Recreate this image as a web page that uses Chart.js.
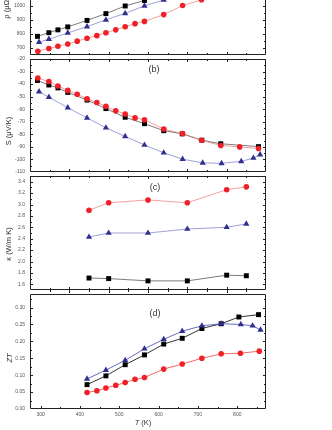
<!DOCTYPE html>
<html>
<head>
<meta charset="utf-8">
<script src="https://cdn.jsdelivr.net/npm/chart.js@4.4.0/dist/chart.umd.min.js"></script>
<style>
html, body { margin: 0; padding: 0; background: #fff; overflow: hidden; }
body { width: 332px; height: 430px; position: relative; font-family: "Liberation Sans", Arial, sans-serif; }
canvas { position: absolute; left: 0; }
.lbl { position: absolute; white-space: nowrap; color: #333; transform: translate(-50%, -50%); line-height: 1; }
.rot { transform: translate(-50%, -50%) rotate(-90deg); }
.ax { font-size: 7.5px; }
.pl { font-size: 9px; }
</style>
</head>
<body>
<canvas id="rhoChart" width="332" height="129" style="top:-66px"></canvas>
<canvas id="seebeckChart" width="332" height="129" style="top:51px"></canvas>
<canvas id="kappaChart" width="332" height="130" style="top:168px"></canvas>
<canvas id="ztChart" width="332" height="144" style="top:286px"></canvas>

<div class="lbl rot ax" style="left:7px; top:2px">ρ (μΩ cm)</div>
<div class="lbl rot ax" style="left:8.5px; top:131px">S (μV/K)</div>
<div class="lbl rot ax" style="left:8.5px; top:244px">κ (W/m K)</div>
<div class="lbl rot ax" style="left:9.5px; top:358px"><i>ZT</i></div>
<div class="lbl ax" style="left:143px; top:423px"><i>T</i> (K)</div>
<div class="lbl pl" style="left:154px; top:69px">(b)</div>
<div class="lbl pl" style="left:155px; top:187px">(c)</div>
<div class="lbl pl" style="left:155px; top:313px">(d)</div>

<script>
// Temperatures for panels a-c (their own 300-900 K axis)
const tBlackAB = [319, 348, 371, 396, 445, 493, 542, 591, 640, 687, 737, 785, 881];
const tRedAB = [320, 348, 371, 396, 420, 445, 470, 493, 518, 542, 567, 591, 640, 688, 736, 785, 833, 881];
const tBlueAB = [323, 348, 396, 445, 493, 542, 591, 640, 688, 739, 787, 837, 868, 885];
const tKappa = [450, 500, 600, 700, 800, 850];

// Temperatures for panel d (273-873 K axis)
const tBlackD = [418, 466, 515, 564, 613, 660, 710, 759, 804, 854];
const tBlueD = [418, 466, 515, 564, 613, 660, 710, 759, 809, 839, 859];
const tRedD = [418, 443, 466, 491, 515, 540, 564, 613, 660, 710, 759, 808, 856];

// (a) resistivity, only the visible part of the panel
const rhoBlack = [782, 808, 828, 849, 895, 943, 997, 1036];
const rhoBlue = [741, 762, 806, 851, 899, 945, 998, 1039];
const rhoRed = [677, 696, 712, 728, 748, 769, 787, 808, 828, 850, 872, 888, 936, 1000, 1041];

// (b) Seebeck coefficient
const sBlack = [-37.1, -40.7, -43.0, -46.6, -52.7, -59.5, -66.4, -71.5, -77.1, -79.6, -84.7, -87.5, -89.8];
const sRed = [-35.1, -37.9, -41.5, -45.0, -48.1, -51.6, -54.7, -57.7, -61.3, -63.8, -66.9, -68.4, -75.8, -79.4, -84.7, -88.9, -90.0, -91.3];
const sBlue = [-46.0, -50.4, -58.8, -66.9, -74.8, -81.7, -88.5, -94.7, -99.8, -102.7, -103.1, -101.5, -98.9, -96.2];

// (c) thermal conductivity
const kRed = [2.90, 3.03, 3.08, 3.03, 3.26, 3.31];
const kBlue = [2.43, 2.50, 2.50, 2.57, 2.60, 2.66];
const kBlack = [1.71, 1.70, 1.66, 1.66, 1.76, 1.75];

// (d) figure of merit
const ztBlack = [0.072, 0.098, 0.131, 0.160, 0.192, 0.209, 0.238, 0.252, 0.272, 0.279];
const ztBlue = [0.089, 0.115, 0.144, 0.178, 0.206, 0.230, 0.246, 0.252, 0.250, 0.246, 0.234];
const ztRed = [0.049, 0.054, 0.062, 0.070, 0.078, 0.088, 0.093, 0.118, 0.133, 0.150, 0.163, 0.165, 0.171];

// Tick labels
const rhoTicks = [700, 800, 900, 1000, 1100, 1200, 1300, 1400];
const sTicks = [-20, -30, -40, -50, -60, -70, -80, -90, -100, -110];
const kTicks = [1.6, 1.8, 2.0, 2.2, 2.4, 2.6, 2.8, 3.0, 3.2, 3.4];
const ztTicks = [0, 0.05, 0.10, 0.15, 0.20, 0.25, 0.30];
const tTicks = [300, 400, 500, 600, 700, 800];

const RED = '#ee2129';
const BLUE = '#2e2f8e';
const BLACK = '#000000';
const FONT = '"Liberation Sans", Arial, sans-serif';

function halfSteps(vals) {
    const out = [];
    const step = vals[1] - vals[0];
    out.push(vals[0] - step / 2);
    vals.forEach(v => out.push(v + step / 2));
    return out;
}

/**
 * Frame with inward ticks on every side
 */
const frameTicks = {
    id: 'frameTicks',
    afterDatasetsDraw(chart, args, opts) {
        const { ctx, chartArea: a, scales: { x, y } } = chart;
        ctx.save();
        ctx.strokeStyle = '#222';
        ctx.lineWidth = 1;
        ctx.beginPath();
        ctx.rect(a.left + 0.5, a.top + 0.5, a.right - a.left - 1, a.bottom - a.top - 1);
        const line = (x1, y1, x2, y2) => { ctx.moveTo(x1, y1); ctx.lineTo(x2, y2); };
        const yTick = (v, len) => {
            const py = Math.round(y.getPixelForValue(v)) + 0.5;
            if (py < a.top || py > a.bottom) return;
            line(a.left, py, a.left + len, py);
            line(a.right - len, py, a.right, py);
        };
        const xTick = (v, len) => {
            const px = Math.round(x.getPixelForValue(v)) + 0.5;
            if (px < a.left || px > a.right) return;
            if (opts.top) line(px, a.top, px, a.top + len);
            if (opts.bottom) line(px, a.bottom - len, px, a.bottom + (opts.bottomOut ? len : 0));
        };
        opts.yMajor.forEach(v => yTick(v, 3));
        opts.yMinor.forEach(v => yTick(v, 2));
        opts.xMajor.forEach(v => xTick(v, 3));
        opts.xMinor.forEach(v => xTick(v, 2));
        ctx.stroke();
        ctx.restore();
    }
};

function series(xs, ys, kind, lineColor) {
    const styles = {
        square: { pointStyle: 'rect', pointRadius: 3.5, color: BLACK },
        circle: { pointStyle: 'circle', pointRadius: 2.8, color: RED },
        triangle: { pointStyle: 'triangle', pointRadius: 3.6, color: BLUE }
    };
    const s = styles[kind];
    return {
        data: ys.map((v, i) => ({ x: xs[i], y: v })),
        borderColor: lineColor,
        borderWidth: 1,
        tension: 0,
        pointStyle: s.pointStyle,
        pointRadius: s.pointRadius,
        pointBackgroundColor: s.color,
        pointBorderColor: s.color,
        pointBorderWidth: 0
    };
}

function makeChart(id, datasets, cfg) {
    const bottomAxis = !!cfg.xLabels;
    return new Chart(document.getElementById(id), {
        type: 'line',
        data: { datasets: datasets },
        plugins: [frameTicks],
        options: {
            responsive: false,
            animation: false,
            events: [],
            layout: { padding: { top: 6, bottom: bottomAxis ? 0 : 6, left: 0, right: 66 } },
            plugins: {
                legend: { display: false },
                tooltip: { enabled: false },
                frameTicks: {
                    yMajor: cfg.yTicks,
                    yMinor: halfSteps(cfg.yTicks),
                    xMajor: cfg.xMajor,
                    xMinor: cfg.xMinor,
                    top: cfg.top,
                    bottom: true,
                    bottomOut: cfg.bottomOut
                }
            },
            scales: {
                x: {
                    type: 'linear',
                    min: cfg.xMin,
                    max: cfg.xMax,
                    display: bottomAxis,
                    grid: { display: false, drawTicks: false },
                    border: { display: false },
                    afterBuildTicks: s => { if (bottomAxis) s.ticks = cfg.xLabels.map(v => ({ value: v })); },
                    afterFit: s => { if (bottomAxis) s.height = 21; },
                    ticks: {
                        autoSkip: false,
                        maxRotation: 0,
                        padding: 3,
                        color: '#555',
                        font: { family: FONT, size: 5 }
                    }
                },
                y: {
                    type: 'linear',
                    min: cfg.yMin,
                    max: cfg.yMax,
                    grid: { display: false, drawTicks: false },
                    border: { display: false },
                    afterBuildTicks: s => { s.ticks = cfg.yTicks.map(v => ({ value: v })); },
                    afterFit: s => { s.width = 30; },
                    ticks: {
                        autoSkip: false,
                        padding: 5,
                        color: '#555',
                        font: { family: FONT, size: 5 },
                        callback: cfg.format
                    }
                }
            }
        }
    });
}

const abMajor = [400, 500, 600, 700, 800];
const abMinor = [350, 450, 550, 650, 750, 850];

makeChart('rhoChart', [
    series(tRedAB, rhoRed, 'circle', 'rgba(240,120,120,0.7)'),
    series(tBlueAB, rhoBlue, 'triangle', 'rgba(120,120,200,0.7)'),
    series(tBlackAB, rhoBlack, 'square', 'rgba(90,90,90,0.8)')
], { xMin: 300, xMax: 900, yMin: 650, yMax: 1450, yTicks: rhoTicks, xMajor: abMajor, xMinor: abMinor, top: true,
     format: v => String(v) });

makeChart('seebeckChart', [
    series(tRedAB, sRed, 'circle', 'rgba(240,120,120,0.7)'),
    series(tBlueAB, sBlue, 'triangle', 'rgba(120,120,200,0.7)'),
    series(tBlackAB, sBlack, 'square', 'rgba(90,90,90,0.8)')
], { xMin: 300, xMax: 900, yMin: -110, yMax: -20, yTicks: sTicks, xMajor: abMajor, xMinor: abMinor, top: true,
     format: v => String(v) });

makeChart('kappaChart', [
    series(tKappa, kRed, 'circle', 'rgba(240,120,120,0.7)'),
    series(tKappa, kBlue, 'triangle', 'rgba(120,120,200,0.7)'),
    series(tKappa, kBlack, 'square', 'rgba(90,90,90,0.8)')
], { xMin: 300, xMax: 900, yMin: 1.5, yMax: 3.5, yTicks: kTicks, xMajor: abMajor, xMinor: abMinor, top: true, bottomOut: true,
     format: v => v.toFixed(1) });

makeChart('ztChart', [
    series(tRedD, ztRed, 'circle', 'rgba(240,80,80,0.85)'),
    series(tBlueD, ztBlue, 'triangle', 'rgba(80,80,180,0.85)'),
    series(tBlackD, ztBlack, 'square', 'rgba(30,30,30,0.9)')
], { xMin: 273, xMax: 873, yMin: 0, yMax: 0.34, yTicks: ztTicks, xMajor: tTicks, xMinor: [350, 450, 550, 650, 750, 850], top: false,
     xLabels: tTicks, format: v => v.toFixed(2) });
</script>
</body>
</html>
